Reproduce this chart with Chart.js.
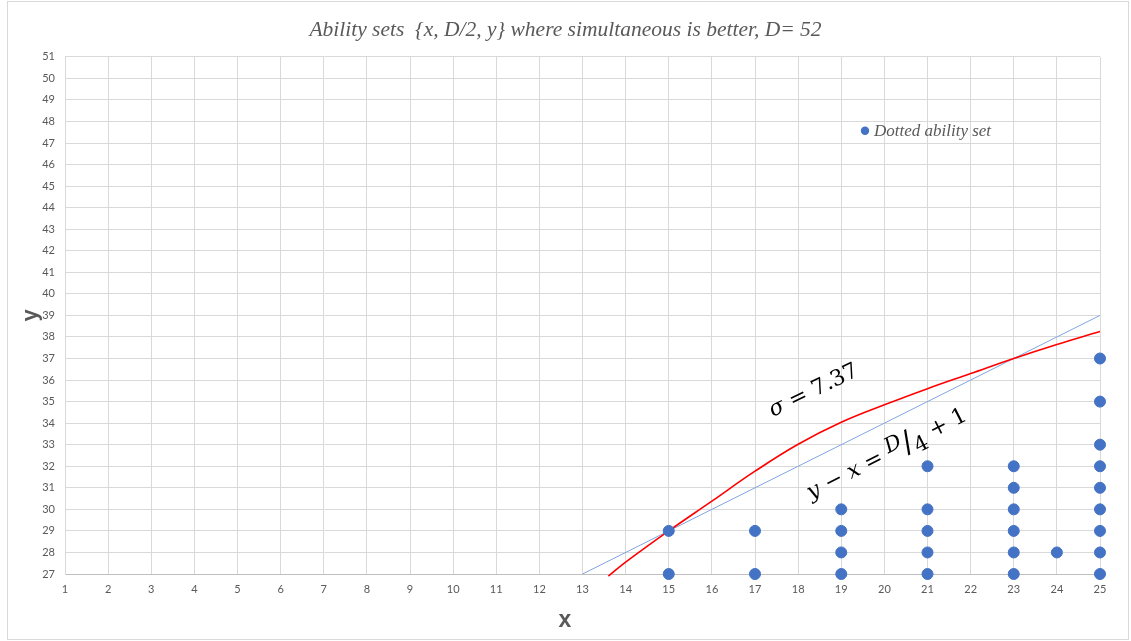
<!DOCTYPE html>
<html>
<head>
<meta charset="utf-8">
<script src="https://cdn.jsdelivr.net/npm/chart.js@4/dist/chart.umd.min.js"></script>
<style>
  html, body { margin: 0; background: #fff; }
  #wrap { width: 1131px; height: 641px; position: relative; }
</style>
</head>
<body>
<div id="wrap"><canvas id="c"></canvas></div>
<script>
// ability-set dots (x, y pairs)
var dotX = [15, 15, 17, 17, 19, 19, 19, 19, 21, 21, 21, 21, 21, 23, 23, 23, 23, 23, 23, 24, 25, 25, 25, 25, 25, 25, 25, 25, 25];
var dotY = [27, 29, 27, 29, 27, 28, 29, 30, 27, 28, 29, 30, 32, 27, 28, 29, 30, 31, 32, 28, 27, 28, 29, 30, 31, 32, 33, 35, 37];
// sigma = 7.37 boundary curve
var sigmaX = [13.6, 14, 15, 16, 17, 18, 19, 20, 21, 22, 23, 24, 25];
var sigmaY = [26.9, 27.55, 29, 30.38, 31.77, 33.02, 34.04, 34.85, 35.6, 36.3, 37, 37.65, 38.25];
// y - x = D/4 + 1 line (D = 52)
var lineX = [13, 25];
var lineY = [27, 39];

var GRID = '#d9d9d9', INK = '#595959', DOT = '#4472C4';

function pts(xs, ys) { return xs.map(function (x, i) { return { x: x, y: ys[i] }; }); }

// outer frame, x axis title, in-plot legend, math annotations
var extras = {
  id: 'extras',
  afterDraw: function (chart) {
    var ctx = chart.ctx, ca = chart.chartArea, sx = chart.scales.x, sy = chart.scales.y;
    ctx.save();
    ctx.strokeStyle = GRID; ctx.lineWidth = 1;
    ctx.strokeRect(7.5, 1.5, chart.width - 10, chart.height - 3);

    // x axis title (sits left of centre in the original)
    ctx.fillStyle = INK; ctx.font = 'bold 23px "Liberation Sans"';
    ctx.textAlign = 'center'; ctx.textBaseline = 'middle';
    ctx.fillText('x', 565, 621);

    // legend
    var lx = ca.left + 800, ly = ca.top + 74;
    ctx.fillStyle = DOT;
    ctx.beginPath(); ctx.arc(lx, ly, 4.2, 0, Math.PI * 2); ctx.fill();
    ctx.fillStyle = INK; ctx.font = 'italic 17px "Liberation Serif"';
    ctx.textBaseline = 'middle'; ctx.textAlign = 'left';
    ctx.fillText('Dotted ability set', lx + 9, ly + 1);

    // rotated math text made of pieces [text, italic, dy, size]
    function mathText(parts, cx, cy, ang) {
      ctx.save();
      ctx.translate(cx, cy); ctx.rotate(ang);
      ctx.fillStyle = '#000'; ctx.textBaseline = 'alphabetic'; ctx.textAlign = 'left';
      var w = 0;
      parts.forEach(function (p) { ctx.font = (p[1] ? 'italic ' : '') + (p[3] || 22) + 'px "DejaVu Serif"'; w += ctx.measureText(p[0]).width; });
      var x = -w / 2;
      parts.forEach(function (p) {
        ctx.font = (p[1] ? 'italic ' : '') + (p[3] || 22) + 'px "DejaVu Serif"';
        ctx.fillText(p[0], x, 7 + (p[2] || 0));
        x += ctx.measureText(p[0]).width;
      });
      ctx.restore();
    }
    mathText([['σ', true], [' = 7.37', false]],
      sx.getPixelForValue(18.35), sy.getPixelForValue(35.55), -0.45);
    mathText([['y', true], [' − ', false], ['x', true], [' = ', false], ['D', true, -6, 21],
              ['/', false, 2, 30], ['4', false, 7, 21], [' + 1', false]],
      sx.getPixelForValue(20.05), sy.getPixelForValue(32.6), -0.47);
    ctx.restore();
  }
};

var xTickVals = [];
for (var t = 1; t <= 25; t++) xTickVals.push(t);

new Chart(document.getElementById('c'), {
  type: 'scatter',
  data: {
    datasets: [
      { label: 'Dotted ability set', data: pts(dotX, dotY), backgroundColor: DOT, borderColor: DOT,
        pointRadius: 5.5, pointHoverRadius: 5.5, clip: false, order: 0 },
      { label: 'sigma', type: 'line', data: pts(sigmaX, sigmaY), borderColor: '#ff0000', borderWidth: 1.6,
        pointRadius: 0, fill: false, tension: 0.4, clip: 3, order: 1 },
      { label: 'line', type: 'line', data: pts(lineX, lineY), borderColor: '#84a5e0', borderWidth: 1,
        pointRadius: 0, fill: false, order: 2 }
    ]
  },
  options: {
    responsive: true, maintainAspectRatio: false, animation: false,
    layout: { padding: { left: 0, right: 0, top: 4, bottom: 0 } },
    plugins: {
      legend: { display: false }, tooltip: { enabled: false },
      title: { display: true, text: 'Ability sets  {x, D/2, y} where simultaneous is better, D= 52',
               color: INK, font: { family: 'Liberation Serif', style: 'italic', size: 21.5, weight: 'normal' },
               padding: { top: 13, bottom: 14 } }
    },
    scales: {
      x: { type: 'linear', min: 1, max: 25,
           afterBuildTicks: function (s) { s.ticks = xTickVals.map(function (v) { return { value: v }; }); },
           grid: { color: GRID, drawTicks: false }, border: { color: '#bfbfbf' },
           ticks: { color: INK, font: { family: 'Lato', size: 11 }, padding: 9, maxRotation: 0 },
           afterFit: function (s) { s.height = 67; } },
      y: { type: 'linear', min: 27, max: 51,
           ticks: { stepSize: 1, color: INK, font: { family: 'Lato', size: 11 }, padding: 10 },
           grid: { color: GRID, drawTicks: false }, border: { color: GRID },
           title: { display: true, text: 'y', color: INK, font: { family: 'Liberation Sans', size: 22, weight: 'bold' },
                    padding: { top: 18 } },
           afterFit: function (s) { s.width = 65; } },
      // empty right-hand spacer so the plot ends where the original does
      yR: { type: 'linear', position: 'right', min: 27, max: 51,
            grid: { display: false }, border: { display: false }, ticks: { display: false },
            afterFit: function (s) { s.width = 31; } }
    }
  },
  plugins: [extras]
});
</script>
</body>
</html>
